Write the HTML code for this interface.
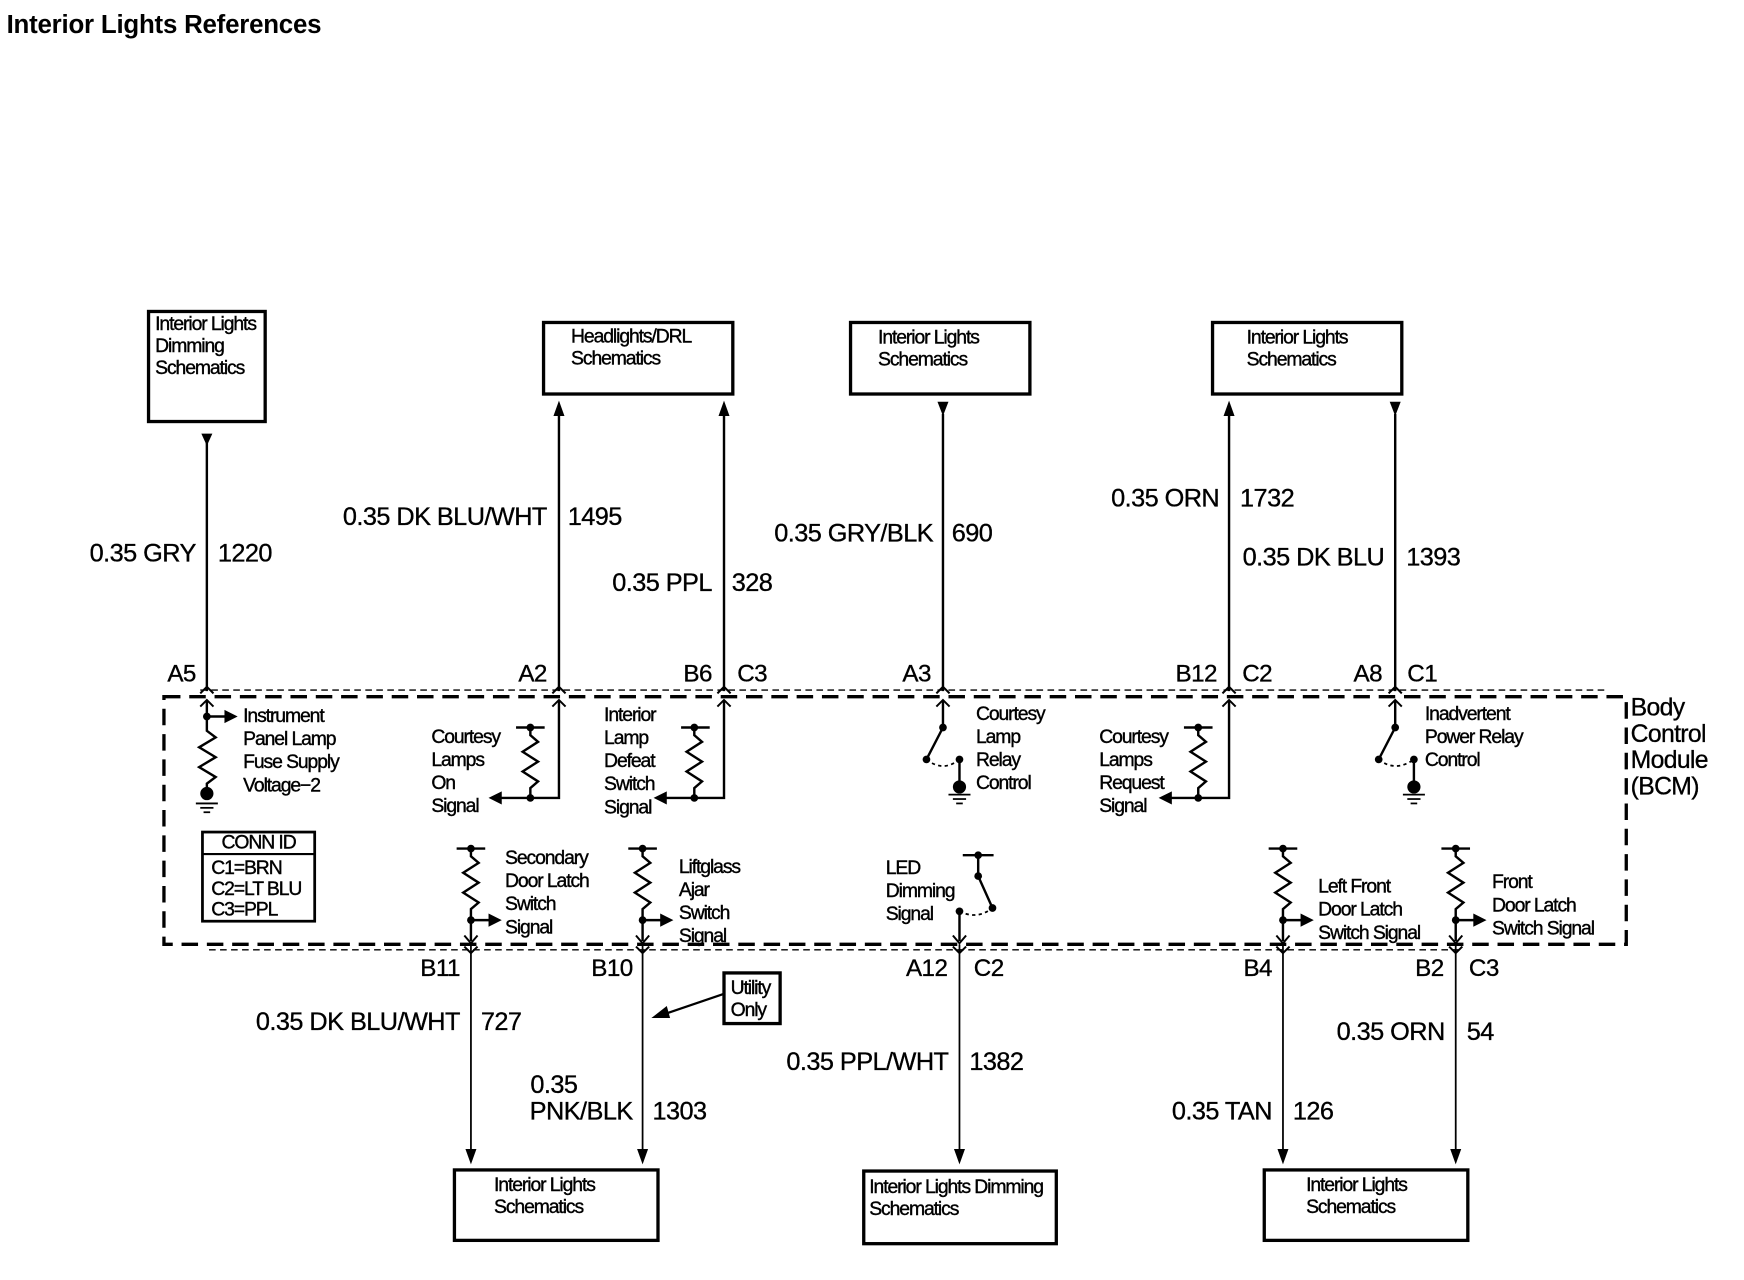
<!DOCTYPE html>
<html><head><meta charset="utf-8"><style>
html,body{margin:0;padding:0;background:#fff;}
svg{display:block;}
text{font-family:"Liberation Sans",Arial,sans-serif;fill:#000;}
.s{font-size:17.6px;letter-spacing:-1px;stroke:#000;stroke-width:0.35px;}
.w{font-size:23px;letter-spacing:-0.5px;stroke:#000;stroke-width:0.3px;}
.c{font-size:22px;letter-spacing:-0.5px;stroke:#000;stroke-width:0.3px;}
</style></head><body>
<svg width="1744" height="1280" viewBox="0 0 1585 1163" preserveAspectRatio="none" xmlns="http://www.w3.org/2000/svg">
<text x="6" y="30" style="font-size:23.5px;font-weight:bold;letter-spacing:-0.2px">Interior Lights References</text>

<g fill="none" stroke="#000" stroke-width="3">
<rect x="135" y="283" width="106" height="100"/>
<rect x="494" y="293" width="172" height="65"/>
<rect x="773" y="293" width="163" height="65"/>
<rect x="1102" y="293" width="172" height="65"/>
<rect x="413" y="1063" width="185" height="64"/>
<rect x="785" y="1064" width="175" height="66"/>
<rect x="1149" y="1063" width="185" height="64"/>
<rect x="658" y="884" width="51" height="46"/>
</g>
<g class="s">
<text x="141" y="300">Interior Lights</text><text x="141" y="320">Dimming</text><text x="141" y="340">Schematics</text>
<text x="519" y="311">Headlights/DRL</text><text x="519" y="331">Schematics</text>
<text x="798" y="312">Interior Lights</text><text x="798" y="332">Schematics</text>
<text x="1133" y="312">Interior Lights</text><text x="1133" y="332">Schematics</text>
<text x="449" y="1082">Interior Lights</text><text x="449" y="1102">Schematics</text>
<text x="790" y="1084">Interior Lights Dimming</text><text x="790" y="1104">Schematics</text>
<text x="1187" y="1082">Interior Lights</text><text x="1187" y="1102">Schematics</text>
<text x="664" y="903">Utility</text><text x="664" y="923">Only</text>
</g>
<line x1="658" y1="903" x2="605" y2="921" stroke="#000" stroke-width="2"/>
<path d="M592,925 L606,914 L609,925 z"/>

<g stroke="#000" stroke-width="2.2" fill="none">
<line x1="188" y1="396" x2="188" y2="628"/>
<line x1="508" y1="376" x2="508" y2="628"/>
<line x1="658" y1="376" x2="658" y2="628"/>
<line x1="857" y1="376" x2="857" y2="628"/>
<line x1="1117" y1="376" x2="1117" y2="628"/>
<line x1="1268" y1="376" x2="1268" y2="628"/>
</g>
<path d="M183,394 L193,394 L188,405 z"/>
<path d="M503,378 L513,378 L508,364 z"/>
<path d="M653,378 L663,378 L658,364 z"/>
<path d="M852,365 L862,365 L857,378 z"/>
<path d="M1112,378 L1122,378 L1117,364 z"/>
<path d="M1263,365 L1273,365 L1268,378 z"/>

<g stroke="#000" stroke-width="1.6" fill="none">
<line x1="428" y1="858" x2="428" y2="1048"/>
<line x1="584" y1="858" x2="584" y2="1048"/>
<line x1="872" y1="858" x2="872" y2="1048"/>
<line x1="1166" y1="858" x2="1166" y2="1048"/>
<line x1="1323" y1="858" x2="1323" y2="1048"/>
</g>
<path d="M423,1044 L433,1044 L428,1058 z"/>
<path d="M579,1044 L589,1044 L584,1058 z"/>
<path d="M867,1044 L877,1044 L872,1058 z"/>
<path d="M1161,1044 L1171,1044 L1166,1058 z"/>
<path d="M1318,1044 L1328,1044 L1323,1058 z"/>

<g class="w">
<text x="178" y="510" text-anchor="end">0.35 GRY</text><text x="198" y="510">1220</text>
<text x="497" y="477" text-anchor="end">0.35 DK BLU/WHT</text><text x="516" y="477">1495</text>
<text x="647" y="537" text-anchor="end">0.35 PPL</text><text x="665" y="537">328</text>
<text x="848" y="492" text-anchor="end">0.35 GRY/BLK</text><text x="865" y="492">690</text>
<text x="1108" y="460" text-anchor="end">0.35 ORN</text><text x="1127" y="460">1732</text>
<text x="1258" y="514" text-anchor="end">0.35 DK BLU</text><text x="1278" y="514">1393</text>
<text x="418" y="936" text-anchor="end">0.35 DK BLU/WHT</text><text x="437" y="936">727</text>
<text x="482" y="993">0.35</text>
<text x="575" y="1017" text-anchor="end">PNK/BLK</text><text x="593" y="1017">1303</text>
<text x="862" y="972" text-anchor="end">0.35 PPL/WHT</text><text x="881" y="972">1382</text>
<text x="1156" y="1017" text-anchor="end">0.35 TAN</text><text x="1175" y="1017">126</text>
<text x="1313" y="945" text-anchor="end">0.35 ORN</text><text x="1333" y="945">54</text>
</g>
<g class="c">
<text x="178" y="619" text-anchor="end">A5</text>
<text x="497" y="619" text-anchor="end">A2</text>
<text x="647" y="619" text-anchor="end">B6</text><text x="670" y="619">C3</text>
<text x="846" y="619" text-anchor="end">A3</text>
<text x="1106" y="619" text-anchor="end">B12</text><text x="1129" y="619">C2</text>
<text x="1256" y="619" text-anchor="end">A8</text><text x="1279" y="619">C1</text>
<text x="418" y="887" text-anchor="end">B11</text>
<text x="575" y="887" text-anchor="end">B10</text>
<text x="861" y="887" text-anchor="end">A12</text><text x="885" y="887">C2</text>
<text x="1156" y="887" text-anchor="end">B4</text>
<text x="1312" y="887" text-anchor="end">B2</text><text x="1335" y="887">C3</text>
</g>

<rect x="149" y="633" width="1329" height="225" fill="none" stroke="#000" stroke-width="3" stroke-dasharray="15,8"/>
<line x1="182" y1="627" x2="1460" y2="627" stroke="#000" stroke-width="1.3" stroke-dasharray="6,4"/>
<line x1="190" y1="863" x2="1330" y2="863" stroke="#000" stroke-width="1.3" stroke-dasharray="6,4"/>
<g fill="none" stroke="#000" stroke-width="1.8">
<path d="M182,630 L188,624 L194,630"/><path d="M182,642 L188,636 L194,642"/>
<path d="M502,630 L508,624 L514,630"/><path d="M502,642 L508,636 L514,642"/>
<path d="M652,630 L658,624 L664,630"/><path d="M652,642 L658,636 L664,642"/>
<path d="M851,630 L857,624 L863,630"/><path d="M851,642 L857,636 L863,642"/>
<path d="M1111,630 L1117,624 L1123,630"/><path d="M1111,642 L1117,636 L1123,642"/>
<path d="M1262,630 L1268,624 L1274,630"/><path d="M1262,642 L1268,636 L1274,642"/>
<path d="M422,850 L428,857 L434,850"/><path d="M422,860 L428,866 L434,860"/>
<path d="M578,850 L584,857 L590,850"/><path d="M578,860 L584,866 L590,860"/>
<path d="M866,850 L872,857 L878,850"/><path d="M866,860 L872,866 L878,860"/>
<path d="M1160,850 L1166,857 L1172,850"/><path d="M1160,860 L1166,866 L1172,860"/>
<path d="M1317,850 L1323,857 L1329,850"/><path d="M1317,860 L1323,866 L1329,860"/>
</g>

<g fill="none" stroke="#000" stroke-width="2.2">
<path d="M188,636 L188,664 L196,670 L181,679 L196,688 L181,697 L196,706 L188,712 L188,720"/>
<line x1="188" y1="651" x2="206" y2="651"/>
<line x1="178" y1="730" x2="198" y2="730" stroke-width="1.6"/><line x1="182" y1="734" x2="194" y2="734" stroke-width="1.6"/><line x1="185" y1="738" x2="191" y2="738" stroke-width="1.6"/>
<path d="M508,636 L508,725 L454,725"/>
<path d="M469,661 L495,661 M482,661 L482,668 L489,674 L475,683 L489,692 L475,701 L489,710 L482,716 L482,725"/>
<path d="M658,636 L658,725 L604,725"/>
<path d="M619,661 L645,661 M631,661 L631,668 L638,674 L624,683 L638,692 L624,701 L638,710 L631,716 L631,725"/>
<path d="M1117,636 L1117,725 L1063,725"/>
<path d="M1076,661 L1102,661 M1089,661 L1089,668 L1096,674 L1082,683 L1096,692 L1082,701 L1096,710 L1089,716 L1089,725"/>
<path d="M857,636 L857,661 L842,690"/>
<path d="M872,690 L872,712"/>
<path d="M842,690 Q857,702 872,690" stroke-dasharray="3,3" stroke-width="1.6"/>
<line x1="862" y1="722" x2="882" y2="722" stroke-width="1.6"/><line x1="866" y1="726" x2="878" y2="726" stroke-width="1.6"/><line x1="869" y1="730" x2="875" y2="730" stroke-width="1.6"/>
<path d="M1268,636 L1268,661 L1253,690"/>
<path d="M1285,690 L1285,712"/>
<path d="M1253,690 Q1268,702 1285,690" stroke-dasharray="3,3" stroke-width="1.6"/>
<line x1="1275" y1="722" x2="1295" y2="722" stroke-width="1.6"/><line x1="1279" y1="726" x2="1291" y2="726" stroke-width="1.6"/><line x1="1282" y1="730" x2="1288" y2="730" stroke-width="1.6"/>
<path d="M415,771 L441,771 M428,771 L428,778 L435,784 L421,793 L435,802 L421,811 L435,820 L428,826 L428,855 M428,836 L446,836"/>
<path d="M571,771 L597,771 M584,771 L584,778 L591,784 L577,793 L591,802 L577,811 L591,820 L584,826 L584,855 M584,836 L602,836"/>
<path d="M875,777 L903,777 M889,777 L889,796 L902,825"/>
<path d="M872,828 L872,855"/>
<path d="M872,828 Q888,836 902,825" stroke-dasharray="3,3" stroke-width="1.6"/>
<path d="M1153,771 L1179,771 M1166,771 L1166,778 L1173,784 L1159,793 L1173,802 L1159,811 L1173,820 L1166,826 L1166,855 M1166,836 L1184,836"/>
<path d="M1310,771 L1336,771 M1323,771 L1323,778 L1330,784 L1316,793 L1330,802 L1316,811 L1330,820 L1323,826 L1323,855 M1323,836 L1341,836"/>
</g>
<g>
<circle cx="188" cy="651" r="3.5"/><path d="M204,645 L216,651 L204,657 z"/>
<circle cx="188" cy="721" r="6"/>
<circle cx="482" cy="661" r="3.5"/><circle cx="482" cy="725" r="3.5"/><path d="M456,719 L444,725 L456,731 z"/>
<circle cx="631" cy="661" r="3.5"/><circle cx="631" cy="725" r="3.5"/><path d="M606,719 L594,725 L606,731 z"/>
<circle cx="1089" cy="661" r="3.5"/><circle cx="1089" cy="725" r="3.5"/><path d="M1065,719 L1053,725 L1065,731 z"/>
<circle cx="857" cy="661" r="3.5"/><circle cx="842" cy="690" r="3.5"/><circle cx="872" cy="690" r="3.5"/><circle cx="872" cy="715" r="6"/>
<circle cx="1268" cy="661" r="3.5"/><circle cx="1253" cy="690" r="3.5"/><circle cx="1285" cy="690" r="3.5"/><circle cx="1285" cy="715" r="6"/>
<circle cx="428" cy="771" r="3.5"/><circle cx="428" cy="836" r="3.5"/><path d="M444,830 L456,836 L444,842 z"/>
<circle cx="584" cy="771" r="3.5"/><circle cx="584" cy="836" r="3.5"/><path d="M600,830 L612,836 L600,842 z"/>
<circle cx="889" cy="777" r="3.5"/><circle cx="889" cy="796" r="3.5"/><circle cx="902" cy="825" r="3.5"/><circle cx="872" cy="828" r="3.5"/>
<circle cx="1166" cy="771" r="3.5"/><circle cx="1166" cy="836" r="3.5"/><path d="M1182,830 L1194,836 L1182,842 z"/>
<circle cx="1323" cy="771" r="3.5"/><circle cx="1323" cy="836" r="3.5"/><path d="M1339,830 L1351,836 L1339,842 z"/>
</g>

<g class="s">
<text x="221" y="656">Instrument</text><text x="221" y="677">Panel Lamp</text><text x="221" y="698">Fuse Supply</text><text x="221" y="719">Voltage−2</text>
<text x="392" y="675">Courtesy</text><text x="392" y="696">Lamps</text><text x="392" y="717">On</text><text x="392" y="738">Signal</text>
<text x="549" y="655">Interior</text><text x="549" y="676">Lamp</text><text x="549" y="697">Defeat</text><text x="549" y="718">Switch</text><text x="549" y="739">Signal</text>
<text x="887" y="654">Courtesy</text><text x="887" y="675">Lamp</text><text x="887" y="696">Relay</text><text x="887" y="717">Control</text>
<text x="999" y="675">Courtesy</text><text x="999" y="696">Lamps</text><text x="999" y="717">Request</text><text x="999" y="738">Signal</text>
<text x="1295" y="654">Inadvertent</text><text x="1295" y="675">Power Relay</text><text x="1295" y="696">Control</text>
<text x="459" y="785">Secondary</text><text x="459" y="806">Door Latch</text><text x="459" y="827">Switch</text><text x="459" y="848">Signal</text>
<text x="617" y="793">Liftglass</text><text x="617" y="814">Ajar</text><text x="617" y="835">Switch</text><text x="617" y="856">Signal</text>
<text x="805" y="794">LED</text><text x="805" y="815">Dimming</text><text x="805" y="836">Signal</text>
<text x="1198" y="811">Left Front</text><text x="1198" y="832">Door Latch</text><text x="1198" y="853">Switch Signal</text>
<text x="1356" y="807">Front</text><text x="1356" y="828">Door Latch</text><text x="1356" y="849">Switch Signal</text>
</g>
<g style="font-size:22.5px;letter-spacing:-0.6px;stroke:#000;stroke-width:0.3px">
<text x="1482" y="650">Body</text><text x="1482" y="674">Control</text><text x="1482" y="698">Module</text><text x="1482" y="722">(BCM)</text>
</g>

<rect x="184" y="756" width="102" height="81" fill="none" stroke="#000" stroke-width="2.5"/>
<line x1="184" y1="776" x2="286" y2="776" stroke="#000" stroke-width="2"/>
<g class="s">
<text x="235" y="771" text-anchor="middle">CONN ID</text>
<text x="192" y="794">C1=BRN</text><text x="192" y="813">C2=LT BLU</text><text x="192" y="832">C3=PPL</text>
</g>
</svg>
</body></html>
